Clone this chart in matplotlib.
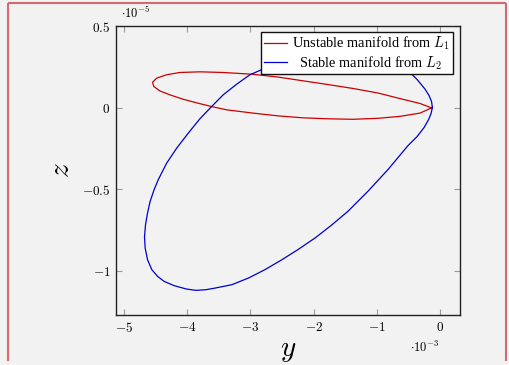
import matplotlib
matplotlib.use("Agg")
import matplotlib.pyplot as plt
from matplotlib.lines import Line2D

plt.rcParams["mathtext.fontset"] = "cm"
plt.rcParams["font.family"] = ["Liberation Serif", "DejaVu Serif"]

# Unstable manifold from L1 (y in 1e-3, z in 1e-5), traced around the loop
red_y = [-0.139, -0.321, -0.637, -0.984, -1.379, -1.774, -2.169, -2.564, -2.959,
         -3.428, -3.796, -4.112, -4.322, -4.480, -4.543, -4.523, -4.428, -4.270,
         -4.060, -3.848, -3.611, -3.374, -2.959, -2.564, -2.169, -1.774, -1.379,
         -0.984, -0.637, -0.321, -0.139]
red_z = [-0.002, 0.025, 0.055, 0.089, 0.117, 0.141, 0.164, 0.187, 0.204,
         0.215, 0.219, 0.215, 0.201, 0.180, 0.155, 0.129, 0.102, 0.078,
         0.051, 0.029, 0.006, -0.014, -0.034, -0.051, -0.063, -0.069, -0.072,
         -0.066, -0.054, -0.034, -0.002]

# Stable manifold from L2 (y in 1e-3, z in 1e-5)
blue_y = [-0.126, -0.139, -0.179, -0.246, -0.368, -0.483, -0.605, -0.795, -1.110,
          -1.505, -1.900, -2.295, -2.611, -2.816, -3.006, -3.216, -3.428, -3.611,
          -3.796, -3.981, -4.164, -4.322, -4.455, -4.518, -4.581, -4.622, -4.654,
          -4.670, -4.660, -4.622, -4.555, -4.464, -4.360, -4.202, -4.017, -3.859,
          -3.701, -3.543, -3.290, -3.027, -2.769, -2.501, -2.248, -1.975, -1.727,
          -1.458, -1.142, -0.826, -0.510, -0.368, -0.258, -0.186, -0.147, -0.126]
blue_z = [0.000, 0.037, 0.074, 0.115, 0.172, 0.217, 0.276, 0.331, 0.380,
          0.393, 0.374, 0.331, 0.276, 0.233, 0.201, 0.143, 0.078, 0.006,
          -0.069, -0.158, -0.250, -0.342, -0.444, -0.503, -0.575, -0.646, -0.718,
          -0.790, -0.861, -0.933, -0.994, -1.035, -1.066, -1.092, -1.112, -1.121,
          -1.117, -1.106, -1.086, -1.045, -0.994, -0.933, -0.871, -0.799, -0.724,
          -0.636, -0.513, -0.380, -0.233, -0.178, -0.123, -0.074, -0.037, 0.000]

x_ticks = [-5, -4, -3, -2, -1, 0]
x_tick_labels = [r"$-5$", r"$-4$", r"$-3$", r"$-2$", r"$-1$", r"$0$"]
y_ticks = [0.5, 0, -0.5, -1]
y_tick_labels = [r"$0.5$", r"$0$", r"$-0.5$", r"$-1$"]

bg = "#f2f2f2"
fig = plt.figure(figsize=(5.09, 3.65), dpi=100, facecolor=bg)
ax = fig.add_axes([116 / 509, 50 / 365, 344 / 509, 289 / 365], facecolor=bg)

ax.plot(red_y, red_z, color="#cc0000", lw=0.9, label=r"Unstable manifold from $L_1$")
ax.plot(blue_y, blue_z, color="#0000cc", lw=0.9, label=r"  Stable manifold from $L_2$")

ax.set_xlim(-5.12, 0.31)
ax.set_ylim(-1.272, 0.5)
ax.set_xticks(x_ticks)
ax.set_xticklabels(x_tick_labels)
ax.set_yticks(y_ticks)
ax.set_yticklabels(y_tick_labels)
ax.tick_params(direction="in", top=True, right=True, length=4, width=0.8,
               color="#9a9a9a", labelsize=9.5, pad=4)
for s in ax.spines.values():
    s.set_color("#222222")
    s.set_linewidth(1.0)

ax.text(0.015, 1.018, r"$\cdot 10^{-5}$", transform=ax.transAxes, fontsize=9,
        ha="left", va="bottom")
ax.text(0.898, -0.111, r"$\cdot 10^{-3}$", transform=ax.transAxes, fontsize=9,
        ha="center", va="center")

ax.set_xlabel(r"$y$", fontsize=21, labelpad=0)
ax.xaxis.set_label_coords(0.5, -0.08)
ax.set_ylabel(r"$z$", fontsize=21, labelpad=0)
ax.yaxis.set_label_coords(-0.119, 0.5)

leg = ax.legend(loc="upper right", bbox_to_anchor=(0.98, 0.979), fontsize=10.4,
                frameon=True, fancybox=False, framealpha=1, edgecolor="#111111",
                handlelength=1.6, handletextpad=0.36, borderpad=0.2,
                labelspacing=0.12, borderaxespad=0)
leg.get_frame().set_linewidth(1.0)

# open red frame around the figure: left, top and right edges
top = 1 - 3 / 365
bottom = 4 / 365
left = 8 / 509
right = 506 / 509
frame_style = dict(transform=fig.transFigure, color="#d46a6f", lw=1.5,
                   solid_capstyle="butt")
fig.add_artist(Line2D([left, left], [bottom, top], **frame_style))
fig.add_artist(Line2D([left, right], [top, top], **frame_style))
fig.add_artist(Line2D([right, right], [bottom, top], **frame_style))

fig.savefig("out.png", dpi=100, facecolor=bg)
